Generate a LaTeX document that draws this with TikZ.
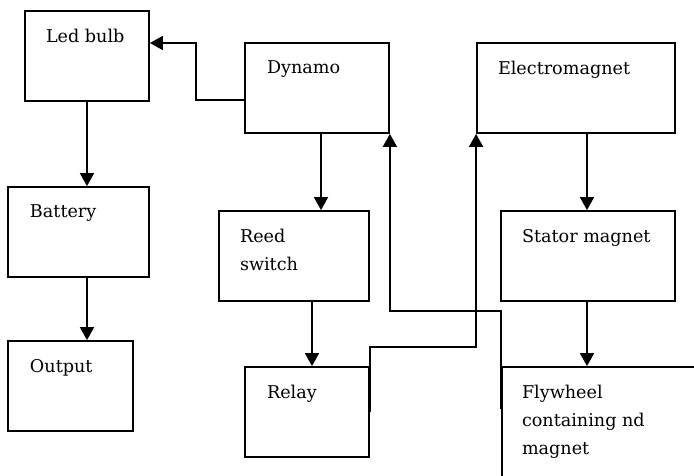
\documentclass[tikz,border=0pt]{standalone}
\usepackage{fontspec}
\setmainfont{DejaVu Serif}
\usepackage{xcolor}
\usepackage{tikz}
\usetikzlibrary{arrows.meta, positioning}

\begin{document}
\begin{tikzpicture}[x=1pt, y=-1pt, line width=1.8pt]
\tikzstyle{box} = [rectangle, draw, minimum height=90pt, inner sep=0pt]
\tikzstyle{lbl} = [anchor=north west, inner sep=0pt, align=left, font=\fontsize{17.6}{28}\selectfont]
\tikzstyle{arr} = [-{Triangle[length=13pt, width=14pt]}]

\useasboundingbox (0,0) rectangle (694,475);
\clip (0,0) rectangle (694,475);

% boxes
\node (led) [box, minimum width=124pt] at (87,56) {};
\node (dynamo) [box, minimum width=144pt] at (317,88) {};
\node (em) [box, minimum width=198pt] at (576,88) {};
\node (battery) [box, minimum width=141pt] at (78.5,232) {};
\node (reed) [box, minimum width=150pt] at (294,256) {};
\node (stator) [box, minimum width=174pt] at (588,256) {};
\node (output) [box, minimum width=125pt] at (70.5,386) {};
\node (relay) [box, minimum width=124pt] at (307,412) {};
\node (fly) [box, minimum width=240pt, minimum height=160pt] at (622,447) {};

% texts
\node (ledtxt) [lbl] at ([xshift=21pt, yshift=-18pt]led.north west) {Led bulb};
\node (dynamotxt) [lbl] at ([xshift=22pt, yshift=-18pt]dynamo.north west) {Dynamo};
\node (emtxt) [lbl] at ([xshift=21pt, yshift=-18pt]em.north west) {Electromagnet};
\node (batterytxt) [lbl] at ([xshift=22pt, yshift=-18pt]battery.north west) {Battery};
\node (reedtxt) [lbl] at ([xshift=21pt, yshift=-18pt]reed.north west) {Reed\\switch};
\node (statortxt) [lbl] at ([xshift=21pt, yshift=-18pt]stator.north west) {Stator magnet};
\node (outputtxt) [lbl] at ([xshift=22pt, yshift=-18pt]output.north west) {Output};
\node (relaytxt) [lbl] at ([xshift=22pt, yshift=-18pt]relay.north west) {Relay};
\node (flytxt) [lbl] at ([xshift=20pt, yshift=-18pt]fly.north west) {Flywheel\\containing nd\\magnet};

% connectors
\draw [arr] (led.south) -- (led.south |- battery.north);
\draw [arr] (led.south |- battery.south) -- (led.south |- output.north);
\draw [arr] ([yshift=-12pt]dynamo.west) -- ++(-48,0) |- ([yshift=13pt]led.east);
\draw [arr] ([xshift=4pt]dynamo.south) -- ([xshift=4pt]dynamo.south |- reed.north);
\draw [arr] ([xshift=18pt]reed.south) -- ([xshift=18pt]reed.south |- relay.north);
\draw [arr] (relay.east) -- ++(0,-65) -| (em.south west);
\draw [arr] ([yshift=-43pt]fly.north west) -- ++(0,-98) -| (dynamo.south east);
\draw [arr] ([xshift=-1pt]stator.north |- em.south) -- ([xshift=-1pt]stator.north);
\draw [arr] ([xshift=-1pt]stator.south) -- ([xshift=-1pt]stator.south |- fly.north);
\end{tikzpicture}
\end{document}
